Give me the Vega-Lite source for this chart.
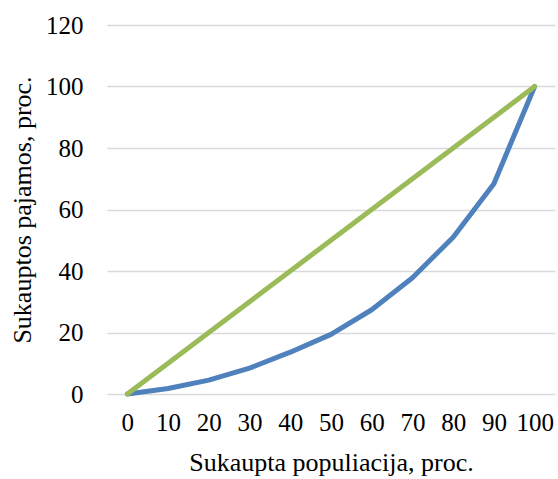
{
  "$schema": "https://vega.github.io/schema/vega-lite/v6.json",
  "width": 448,
  "height": 369,
  "autosize": {"type": "none"},
  "padding": {"left": 107, "top": 25, "right": 3, "bottom": 85},
  "background": "white",
  "config": {
    "view": {"stroke": null},
    "font": "Liberation Serif",
    "axis": {"labelFont": "Liberation Serif", "titleFont": "Liberation Serif", "labelColor": "#000000", "titleColor": "#000000", "titleFontWeight": "normal"}
  },
  "data": {
    "values": [
      {"x": 0, "y": 0, "series": "Lorenz"},
      {"x": 10, "y": 1.8, "series": "Lorenz"},
      {"x": 20, "y": 4.5, "series": "Lorenz"},
      {"x": 30, "y": 8.4, "series": "Lorenz"},
      {"x": 40, "y": 13.6, "series": "Lorenz"},
      {"x": 50, "y": 19.4, "series": "Lorenz"},
      {"x": 60, "y": 27.4, "series": "Lorenz"},
      {"x": 70, "y": 37.8, "series": "Lorenz"},
      {"x": 80, "y": 51, "series": "Lorenz"},
      {"x": 90, "y": 68.4, "series": "Lorenz"},
      {"x": 100, "y": 100, "series": "Lorenz"},
      {"x": 0, "y": 0, "series": "Lygybė"},
      {"x": 100, "y": 100, "series": "Lygybė"}
    ]
  },
  "mark": {"type": "line", "strokeWidth": 5, "strokeCap": "round", "strokeJoin": "round"},
  "encoding": {
    "x": {
      "field": "x",
      "type": "quantitative",
      "scale": {"domain": [-5, 105], "nice": false, "zero": false},
      "axis": {
        "title": "Sukaupta populiacija, proc.",
        "values": [0, 10, 20, 30, 40, 50, 60, 70, 80, 90, 100],
        "grid": false,
        "domain": false,
        "ticks": false,
        "labelFontSize": 25,
        "titleFontSize": 26,
        "labelPadding": 16,
        "titlePadding": 14
      }
    },
    "y": {
      "field": "y",
      "type": "quantitative",
      "scale": {"domain": [0, 120], "nice": false},
      "axis": {
        "title": "Sukauptos pajamos, proc.",
        "values": [0, 20, 40, 60, 80, 100, 120],
        "grid": true,
        "gridColor": "#D9D9D9",
        "gridWidth": 1.5,
        "domain": false,
        "ticks": false,
        "labelFontSize": 25,
        "titleFontSize": 26,
        "labelPadding": 24,
        "titlePadding": 10
      }
    },
    "color": {
      "field": "series",
      "type": "nominal",
      "scale": {"domain": ["Lorenz", "Lygybė"], "range": ["#4F81BD", "#9BBB59"]},
      "legend": null
    },
    "order": {"field": "x", "type": "quantitative"}
  }
}
